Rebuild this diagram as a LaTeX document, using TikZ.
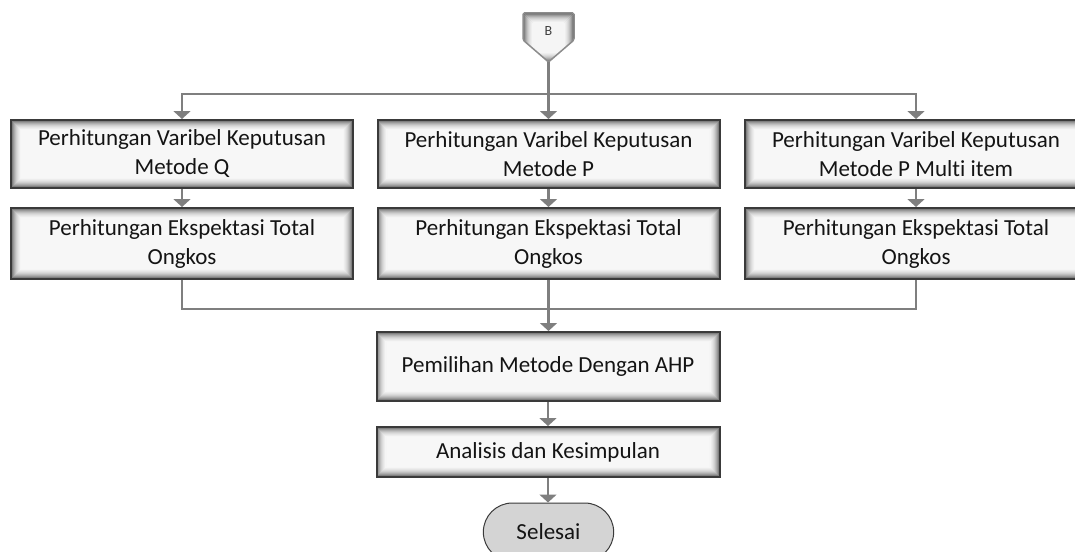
\documentclass[tikz,border=0pt]{standalone}
\usepackage{fontspec}
\setmainfont[Ligatures=NoCommon]{Carlito}
\usetikzlibrary{arrows.meta,shapes.misc}
\definecolor{conn}{HTML}{7F7F7F}
\definecolor{edge}{HTML}{3A3A3A}
\tikzset{
  glow/.style={path picture={
    \foreach \i/\c in {0/60,1/50,2/40,3/32,4/25,5/19,6/14,7/10,8/7,9/4}{
      \draw[line width=1.3pt, black!\c]
        ([shift={(\i pt+0.5pt,\i pt+0.5pt)}]path picture bounding box.south west) rectangle
        ([shift={(-\i pt-0.5pt,-\i pt-0.5pt)}]path picture bounding box.north east);
    }}},
  procbox/.style={draw=edge, line width=2pt, fill=black!3, glow, minimum width=342pt,
    align=center, font=\fontsize{23}{29}\selectfont, text=black!92, inner sep=0pt},
  arr/.style={draw=conn, line width=2.6pt, -{Triangle[width=17pt,length=8pt]}},
  ln/.style={draw=conn, line width=2.6pt},
  term/.style={rounded rectangle, draw=edge, line width=1pt, fill=black!17,
    minimum width=137pt, minimum height=58pt, font=\fontsize{23}{29}\selectfont, text=black!92}
}
\begin{document}
\begin{tikzpicture}[x=1pt,y=-1pt]
\useasboundingbox (0,0) rectangle (1075,551);
\clip (0,0) rectangle (1075,551);
% off-page connector B
\path[draw=black!45, line width=1.5pt, fill=black!4, rounded corners=1.5pt, glow]
  (523,13) -- (574,13) -- (574,40) -- (548.5,62) -- (523,40) -- cycle;
\node[font=\fontsize{14}{16}\selectfont, text=black!75] (B) at (548.5,31) {B};
\coordinate (Btip) at (548.5,62);
\coordinate (split) at (548.5,94);
% boxes
\node[procbox, minimum height=68pt] (q1) at (182,154) {Perhitungan Varibel Keputusan\\Metode Q};
\node[procbox, minimum height=71pt] (q2) at (182,243.5) {Perhitungan Ekspektasi Total\\Ongkos};
\node[procbox, minimum height=68pt] (p1) at (548.5,154) {Perhitungan Varibel Keputusan\\Metode P};
\node[procbox, minimum height=71pt] (p2) at (548.5,243.5) {Perhitungan Ekspektasi Total\\Ongkos};
\node[procbox, minimum height=68pt] (r1) at (916,154) {Perhitungan Varibel Keputusan\\Metode P Multi item};
\node[procbox, minimum height=71pt] (r2) at (916,243.5) {Perhitungan Ekspektasi Total\\Ongkos};
\node[procbox, minimum height=69pt, minimum width=343pt] (ahp) at (548,366.5) {Pemilihan Metode Dengan AHP};
\node[procbox, minimum height=50pt, minimum width=343pt] (an) at (548,452) {Analisis dan Kesimpulan};
\node[term] (end) at (548.5,532) {Selesai};
\coordinate (merge) at (548.5,309);
% connectors
\draw[ln] (Btip) -- (split);
\draw[arr] (split) -| (q1.north);
\draw[arr] (split) -- (p1.north);
\draw[arr] (split) -| (r1.north);
\draw[arr] (q1) -- (q2);
\draw[arr] (p1) -- (p2);
\draw[arr] (r1) -- (r2);
\draw[ln] (q2.south) |- (merge);
\draw[ln] (r2.south) |- (merge);
\draw[arr] (p2.south) -- (p2.south |- ahp.north);
\draw[arr] (ahp) -- (ahp |- an.north);
\draw[arr] (an) -- (an |- end.north);
\end{tikzpicture}
\end{document}
